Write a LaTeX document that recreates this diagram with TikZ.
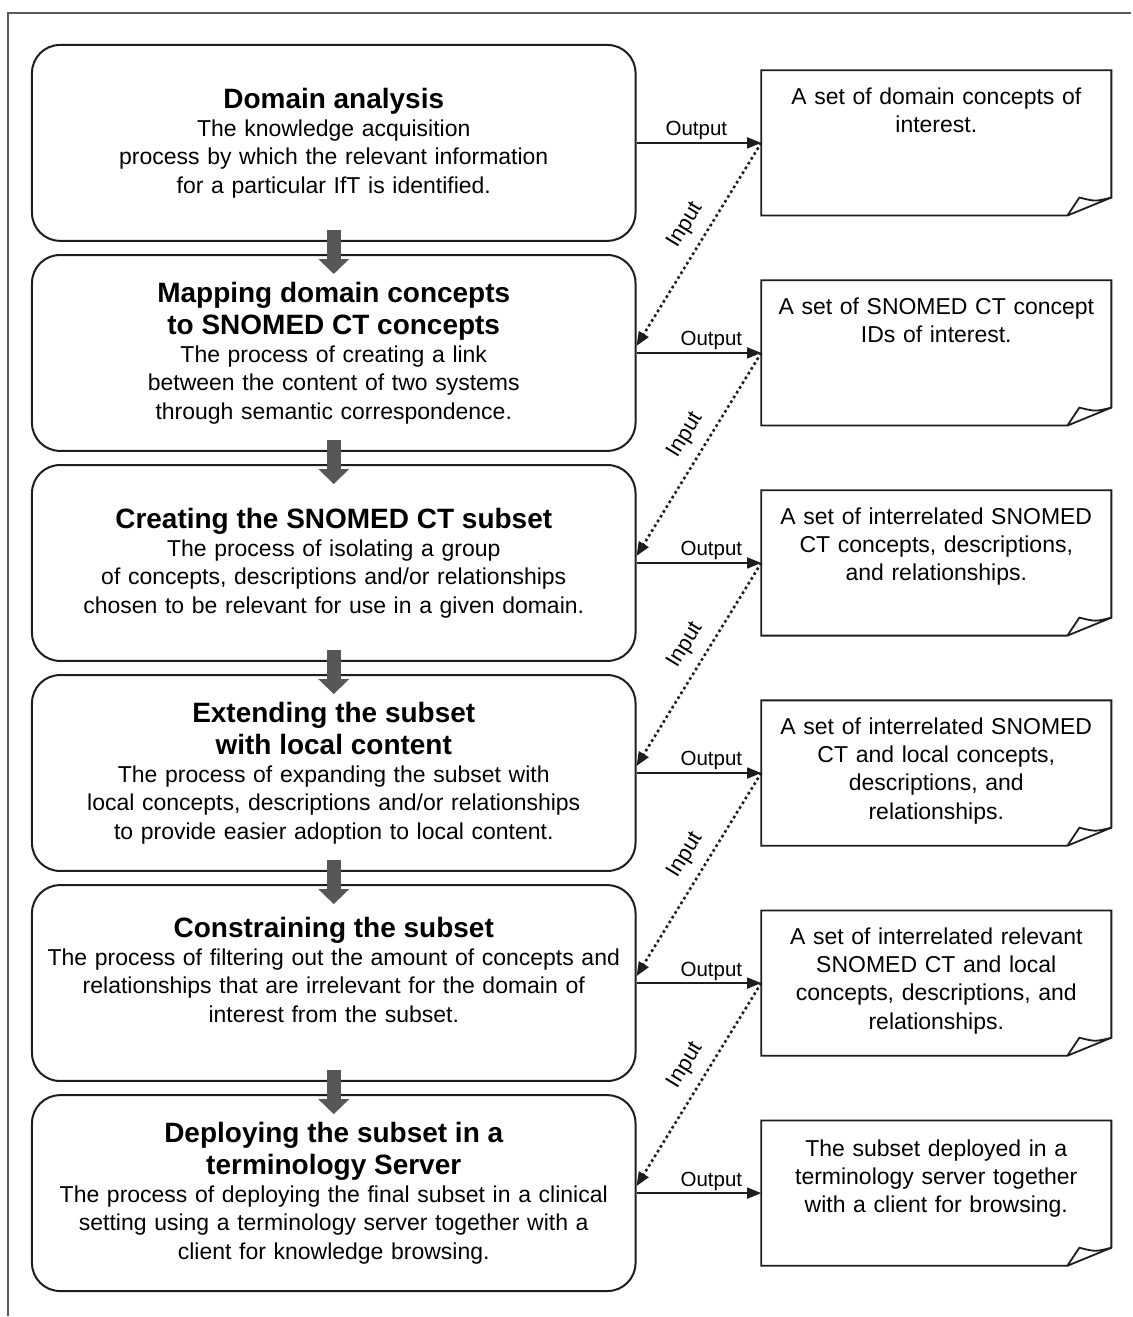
\documentclass[tikz,border=0pt]{standalone}
\usepackage{fontspec}
\setmainfont{Liberation Sans}
\usetikzlibrary{arrows.meta}
\newcommand{\ptitle}{\fontsize{28}{32}\selectfont\bfseries\spaceskip=\fontdimen2\font\xspaceskip=\fontdimen2\font}
\newcommand{\pbody}{\fontsize{23}{28.3}\selectfont}
\newcommand{\plabel}{\fontsize{20.5}{24}\selectfont}
\newcommand{\pinlabel}{\fontsize{22}{26}\selectfont}
\definecolor{framegray}{HTML}{5A5A5A}
\definecolor{arrowgray}{HTML}{575757}
\definecolor{linecol}{HTML}{1E1E1E}
\begin{document}
\begin{tikzpicture}[x=1pt,y=-1pt,
  procbox/.style={draw=linecol, line width=2pt, rounded corners=28pt,
    minimum width=604pt, minimum height=196pt, text width=596pt,
    align=center, inner sep=0pt, font=\pbody},
  docframe/.style={minimum width=350pt, minimum height=145pt, inner sep=0pt},
  doctext/.style={text width=340pt, align=center, anchor=north, inner sep=0pt, font=\pbody},
  docline/.style={draw=linecol, line width=1.8pt, line join=miter},
  outarrow/.style={draw=linecol, line width=1.6pt, -{Triangle[length=14pt,width=11pt]}},
  inarrow/.style={draw=linecol, line width=2.6pt, dash pattern=on 2.6pt off 3pt,
    -{Triangle[length=14pt,width=11pt]}},
  bigarrow/.style={draw=arrowgray, line width=14pt, -{Triangle[length=15pt,width=30pt]}},
  lbl/.style={font=\plabel, inner sep=2pt},
  inlbl/.style={font=\pinlabel, inner sep=2pt, above=8pt, sloped, pos=0.46}
]
\fill[white] (0,0) rectangle (1132,1317);
\draw[draw=framegray, line width=2pt] (8,1317) -- (8,13) -- (1132,13);

% process boxes
\node[procbox] (p1) at (334,143) {{\ptitle Domain analysis\par}The knowledge acquisition\\ process by which the relevant information\\ for a particular IfT is identified.\par};
\node[procbox] (p2) at (334,353.2) {{\ptitle Mapping domain concepts\\ to SNOMED CT concepts\par}The process of creating a link\\ between the content of two systems\\ through semantic correspondence.\par};
\node[procbox] (p3) at (334,563.4) {{\ptitle Creating the SNOMED CT subset\par}The process of isolating a group\\ of concepts, descriptions and/or relationships\\ chosen to be relevant for use in a given domain.\par};
\node[procbox] (p4) at (334,773.6) {{\ptitle Extending the subset\\ with local content\par}The process of expanding the subset with\\ local concepts, descriptions and/or relationships\\ to provide easier adoption to local content.\par};
\node[procbox, text depth=112pt] (p5) at (334,983.8) {{\ptitle Constraining the subset\par}The process of filtering out the amount of concepts and\\ relationships that are irrelevant for the domain of\\ interest from the subset.\par};
\node[procbox] (p6) at (334,1194) {{\ptitle Deploying the subset in a\\ terminology Server\par}The process of deploying the final subset in a clinical\\ setting using a terminology server together with a\\ client for knowledge browsing.\par};

% document boxes
\foreach \i/\y in {1/143,2/353.2,3/563.4,4/773.6,5/983.8,6/1194}{
  \node[docframe] (o\i) at (937,\y) {};
  \draw[docline] (o\i.north west) -- (o\i.north east) -- ([yshift=18pt]o\i.south east)
     -- ([xshift=-44pt]o\i.south east) -- (o\i.south west) -- cycle;
  \draw[docline] ([xshift=-44pt]o\i.south east) -- ([xshift=-32pt,yshift=18pt]o\i.south east)
     .. controls ([xshift=-16pt,yshift=14pt]o\i.south east) .. ([yshift=18pt]o\i.south east);
}
\node[doctext] (t1) at ([yshift=-17pt]o1.north) {A set of domain concepts of\\ interest.};
\node[doctext] (t2) at ([yshift=-17pt]o2.north) {A set of SNOMED CT concept\\ IDs of interest.};
\node[doctext] (t3) at ([yshift=-17pt]o3.north) {A set of interrelated SNOMED\\ CT concepts, descriptions,\\ and relationships.};
\node[doctext] (t4) at ([yshift=-17pt]o4.north) {A set of interrelated SNOMED\\ CT and local concepts,\\ descriptions, and\\ relationships.};
\node[doctext] (t5) at ([yshift=-17pt]o5.north) {A set of interrelated relevant\\ SNOMED CT and local\\ concepts, descriptions, and\\ relationships.};
\node[doctext] (t6) at ([yshift=-19pt]o6.north) {The subset deployed in a\\ terminology server together\\ with a client for browsing.};

% big gray arrows between process boxes
\foreach \a/\b in {1/2,2/3,3/4,4/5,5/6}{
  \draw[bigarrow] ([yshift=12pt]p\a.south) -- ([yshift=-20pt]p\b.north);
}

% output arrows
\draw[outarrow] (p1.east) -- node[lbl, above, pos=0.48] {Output} (o1.west);
\foreach \i in {2,...,6}{
  \draw[outarrow] (p\i.east) -- node[lbl, above, pos=0.6] {Output} (o\i.west);
}

% input arrows
\foreach \a/\b in {1/2,2/3,3/4,4/5,5/6}{
  \draw[inarrow] (o\a.west) -- node[inlbl] {Input} ([yshift=7pt]p\b.east);
}
\end{tikzpicture}
\end{document}
